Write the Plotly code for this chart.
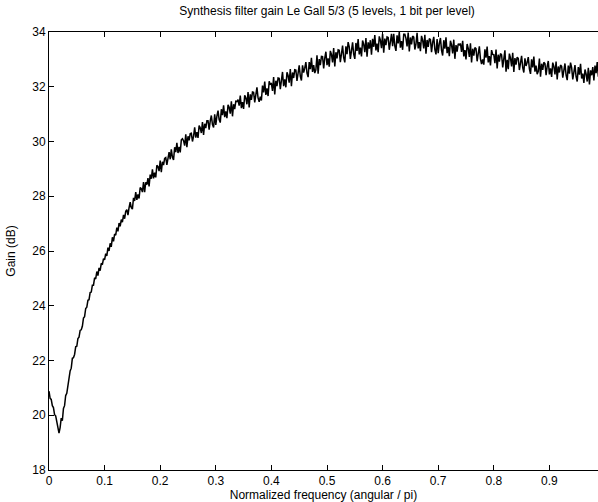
import numpy as np
import plotly.graph_objects as go

# Frequency grid (normalized angular frequency / pi), uniform step
freq_step = 0.002

# Gain values (dB), 10 samples per row (0.02 per row)
gain_db = [
    20.88, 20.62, 20.58, 20.35, 20.28, 20.02, 19.98, 19.72, 19.52, 19.35,
    19.55, 19.90, 19.80, 20.25, 20.35, 20.72, 20.80, 21.15, 21.28, 21.62,
    21.72, 22.08, 22.10, 22.22, 22.50, 22.52, 22.80, 22.85, 23.10, 23.12,
    23.25, 23.55, 23.60, 23.90, 23.95, 24.20, 24.22, 24.48, 24.50, 24.75,
    24.75, 25.02, 24.98, 25.25, 25.10, 25.38, 25.28, 25.55, 25.50, 25.72,
    25.68, 25.90, 25.82, 26.12, 26.00, 26.28, 26.15, 26.50, 26.35, 26.62,
    26.58, 26.85, 26.72, 27.02, 26.90, 27.15, 27.05, 27.32, 27.18, 27.45,
    27.51, 27.31, 27.58, 27.78, 27.58, 27.53, 27.94, 27.83, 28.15, 27.87,
    28.07, 27.92, 28.32, 28.28, 28.15, 28.52, 28.15, 28.51, 28.42, 28.66,
    28.36, 28.79, 28.64, 28.98, 28.65, 28.86, 28.69, 29.13, 29.08, 28.92,
    29.30, 28.88, 29.26, 29.14, 29.38, 29.41, 29.15, 29.43, 29.61, 29.35,
    29.71, 29.42, 29.33, 29.79, 29.61, 29.95, 29.58, 29.80, 29.60, 30.06,
    30.10, 30.03, 29.85, 30.26, 29.79, 30.19, 30.04, 30.29, 30.30, 30.00,
    30.19, 30.52, 30.14, 30.34, 30.13, 30.58, 30.50, 30.31, 30.71, 30.24,
    30.65, 30.49, 30.76, 30.76, 30.43, 30.75, 30.95, 30.62, 30.51, 30.99,
    30.61, 30.93, 31.13, 30.80, 30.69, 31.18, 30.96, 31.32, 30.89, 31.10,
    30.85, 31.34, 31.25, 31.02, 31.47, 30.92, 31.36, 31.18, 31.47, 31.46,
    31.53, 31.31, 31.68, 31.22, 31.44, 31.19, 31.69, 31.59, 31.36, 31.81,
    31.24, 31.72, 31.52, 31.81, 31.80, 31.43, 31.77, 31.98, 31.59, 31.45,
    31.64, 31.50, 32.04, 31.79, 32.19, 31.70, 31.94, 31.66, 32.20, 32.09,
    32.11, 31.85, 32.35, 31.72, 32.22, 32.02, 32.32, 32.31, 31.91, 32.26,
    32.54, 32.02, 32.27, 31.98, 32.53, 32.41, 32.15, 32.65, 32.02, 32.52,
    32.32, 32.62, 32.61, 32.21, 32.56, 32.78, 32.38, 32.23, 32.78, 32.52,
    32.68, 32.90, 32.50, 32.35, 32.90, 32.64, 33.06, 32.54, 32.79, 32.50,
    32.62, 33.15, 32.48, 33.01, 32.79, 33.11, 33.10, 32.67, 33.05, 33.28,
    32.79, 33.04, 32.73, 33.31, 33.18, 32.89, 33.41, 32.74, 33.26, 33.04,
    33.35, 33.33, 32.90, 33.27, 33.50, 33.06, 32.89, 33.48, 33.19, 33.63,
    33.46, 33.02, 33.40, 33.62, 33.19, 33.02, 33.60, 33.31, 33.74, 33.18,
    33.43, 33.11, 33.69, 33.55, 33.26, 33.78, 33.10, 33.62, 33.39, 33.70,
    33.17, 33.75, 33.46, 33.89, 33.33, 33.58, 33.26, 33.84, 33.70, 33.41,
    33.93, 33.24, 33.76, 33.52, 33.82, 33.80, 33.35, 33.71, 33.93, 33.48,
    33.93, 33.48, 33.31, 33.88, 33.58, 34.00, 33.43, 33.67, 33.35, 33.92,
    33.92, 33.77, 33.47, 33.98, 33.29, 33.80, 33.55, 33.85, 33.81, 33.36,
    33.56, 33.97, 33.40, 33.63, 33.30, 33.86, 33.70, 33.40, 33.90, 33.21,
    33.71, 33.46, 33.76, 33.72, 33.26, 33.62, 33.82, 33.36, 33.18, 33.74,
    33.23, 33.58, 33.78, 33.33, 33.14, 33.70, 33.39, 33.81, 33.23, 33.46,
    33.12, 33.68, 33.53, 33.22, 33.72, 33.02, 33.52, 33.28, 33.57, 33.53,
    33.58, 33.27, 33.68, 33.11, 33.34, 33.00, 33.56, 33.40, 33.09, 33.59,
    32.89, 33.39, 33.14, 33.43, 33.39, 32.93, 33.28, 33.48, 33.02, 32.83,
    33.00, 32.81, 33.37, 33.06, 33.47, 32.89, 33.12, 32.78, 33.34, 33.18,
    33.17, 32.86, 33.36, 32.67, 33.17, 32.92, 33.21, 33.17, 32.71, 33.06,
    33.33, 32.55, 32.98, 32.64, 33.21, 33.05, 32.74, 33.24, 32.54, 33.05,
    32.81, 33.08, 33.04, 32.61, 32.94, 33.13, 32.70, 32.52, 33.04, 32.76,
    32.89, 33.08, 32.65, 32.47, 33.00, 32.71, 33.10, 32.55, 32.77, 32.46,
    32.56, 33.03, 32.37, 32.84, 32.62, 32.89, 32.85, 32.42, 32.74, 32.94,
    32.45, 32.67, 32.36, 32.88, 32.74, 32.45, 32.92, 32.27, 32.74, 32.52,
    32.79, 32.75, 32.33, 32.65, 32.85, 32.42, 32.24, 32.77, 32.48, 32.88,
    32.70, 32.27, 32.60, 32.79, 32.37, 32.19, 32.72, 32.44, 32.84, 32.30,
    32.48, 32.14, 32.63, 32.47, 32.19, 32.69, 32.08, 32.60, 32.42, 32.72,
    32.23, 32.77, 32.50, 32.90, 32.37,
]
freq = np.arange(len(gain_db)) * freq_step

x_ticks = [0, 0.1, 0.2, 0.3, 0.4, 0.5, 0.6, 0.7, 0.8, 0.9]
x_tick_labels = ["0", "0.1", "0.2", "0.3", "0.4", "0.5", "0.6", "0.7", "0.8", "0.9"]
y_ticks = [18, 20, 22, 24, 26, 28, 30, 32, 34]

title_text = "Synthesis filter gain Le Gall 5/3 (5 levels, 1 bit per level)"
x_title = "Normalized frequency (angular / pi)"
y_title = "Gain (dB)"

font_family = "Liberation Sans, Arial, Helvetica, sans-serif"

fig = go.Figure()
fig.add_trace(go.Scatter(
    x=freq, y=gain_db, mode="lines",
    line=dict(color="black", width=1.5),
    showlegend=False, hoverinfo="skip",
))

fig.update_layout(
    width=598, height=502,
    margin=dict(l=49, r=0, t=32, b=32),
    paper_bgcolor="white", plot_bgcolor="white",
    font=dict(family=font_family, size=12, color="black"),
    title=dict(text=title_text, x=0.547, xanchor="center", y=0.978, yanchor="middle",
               font=dict(size=12, color="black")),
)
fig.update_xaxes(
    range=[0, 0.9874], tickvals=x_ticks, ticktext=x_tick_labels,
    ticks="inside", ticklen=5, tickcolor="black", tickwidth=1,
    showline=True, linecolor="black", linewidth=1, mirror="ticks",
    showgrid=False, zeroline=False,
    title=dict(text=x_title, standoff=3, font=dict(size=12)),
    tickfont=dict(size=12), automargin=False,
)
fig.update_yaxes(
    range=[18, 34], tickvals=y_ticks,
    ticks="inside", ticklen=5, tickcolor="black", tickwidth=1,
    showline=True, linecolor="black", linewidth=1, mirror=False,
    showgrid=False, zeroline=False,
    title=dict(text=y_title, standoff=14, font=dict(size=12)),
    tickfont=dict(size=12), automargin=False,
)

fig.write_html("out.html")
